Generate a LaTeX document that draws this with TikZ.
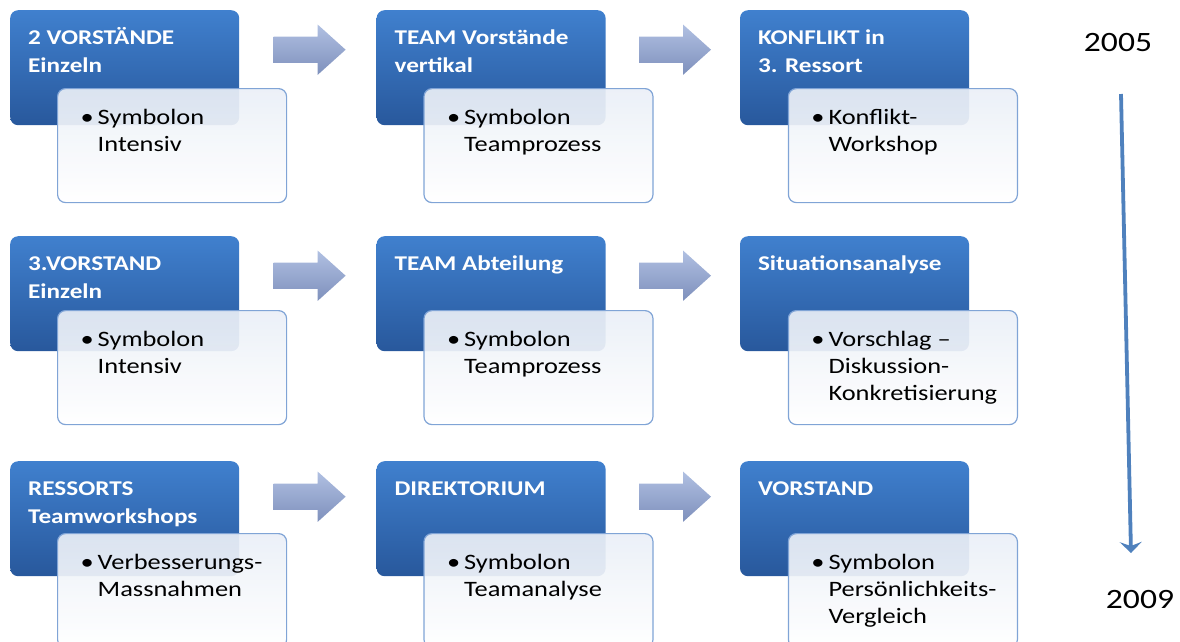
\documentclass[tikz,border=0pt]{standalone}
\usepackage{fontspec}
\setmainfont[FakeStretch=1.2]{Carlito}
\usetikzlibrary{arrows.meta, calc, positioning, shapes.arrows}

\definecolor{boxtop}{RGB}{64,128,206}
\definecolor{boxbot}{RGB}{40,88,156}
\definecolor{subline}{RGB}{128,164,214}
\definecolor{subtop}{RGB}{234,239,247}
\definecolor{arrtop}{RGB}{176,192,226}
\definecolor{arrbot}{RGB}{126,144,188}
\definecolor{timeblue}{RGB}{79,129,189}

\newcommand{\headtext}[1]{\parbox[c][85pt][t]{193pt}{\strut#1}}
\newcommand{\subtext}[1]{\parbox[c][80pt][t]{183pt}{\hbox to 183pt{\strut\textbullet\hspace{4pt}\begin{tabular}[t]{@{}l@{}}#1\end{tabular}\hss}}}

\tikzset{
  headbox/.style={rounded corners=8pt, top color=boxtop, bottom color=boxbot,
    anchor=north west, inner xsep=18pt, inner ysep=15pt, text=white,
    font=\bfseries\fontsize{21}{28}\selectfont},
  subbox/.style={rounded corners=8pt, draw=subline, line width=1.2pt,
    top color=subtop, bottom color=white, fill opacity=0.92, text opacity=1,
    inner xsep=23pt, inner ysep=17pt, font=\fontsize{22}{27}\selectfont},
  stepblock/.style={single arrow, inner xsep=0pt, inner ysep=13pt,
    minimum height=72pt, minimum width=50pt, single arrow head extend=12pt,
    single arrow tip angle=84, top color=arrtop, bottom color=arrbot},
  yeartext/.style={font=\fontsize{28}{32}\selectfont},
  timeline/.style={draw=timeblue, line width=3.8pt,
    -{Stealth[length=11pt,width=22pt,inset=4pt]}},
}

\begin{document}
\begin{tikzpicture}[x=1pt,y=-1pt]
\useasboundingbox (0,0) rectangle (1180,641);

% row 1
\node[headbox] (h11) at (10,10) {\headtext{2 VORSTÄNDE\\Einzeln}};
\node[headbox, right=137pt of h11] (h12) {\headtext{TEAM Vorstände\\vertikal}};
\node[headbox, right=134pt of h12] (h13) {\headtext{KONFLIKT in\\3. Ressort}};
\node[subbox, below right=78pt and 47pt of h11.north west] (s11) {\subtext{Symbolon\\Intensiv}};
\node[subbox, below right=78pt and 47pt of h12.north west] (s12) {\subtext{Symbolon\\Teamprozess}};
\node[subbox, below right=78pt and 48pt of h13.north west] (s13) {\subtext{Konflikt-\\Workshop}};
\node[stepblock, right=34pt of h11.east, yshift=18pt] (a11) {};
\node[stepblock, right=33pt of h12.east, yshift=18pt] (a12) {};

% row 2
\node[headbox] (h21) at (10,236) {\headtext{3.VORSTAND\\Einzeln}};
\node[headbox, right=137pt of h21] (h22) {\headtext{TEAM Abteilung}};
\node[headbox, right=134pt of h22] (h23) {\headtext{Situationsanalyse}};
\node[subbox, below right=74pt and 47pt of h21.north west] (s21) {\subtext{Symbolon\\Intensiv}};
\node[subbox, below right=74pt and 47pt of h22.north west] (s22) {\subtext{Symbolon\\Teamprozess}};
\node[subbox, below right=74pt and 48pt of h23.north west] (s23) {\subtext{Vorschlag –\\Diskussion-\\Konkretisierung}};
\node[stepblock, right=34pt of h21.east, yshift=18pt] (a21) {};
\node[stepblock, right=33pt of h22.east, yshift=18pt] (a22) {};

% row 3
\node[headbox] (h31) at (10,461) {\headtext{RESSORTS\\Teamworkshops}};
\node[headbox, right=137pt of h31] (h32) {\headtext{DIREKTORIUM}};
\node[headbox, right=134pt of h32] (h33) {\headtext{VORSTAND}};
\node[subbox, below right=72pt and 47pt of h31.north west] (s31) {\subtext{Verbesserungs-\\Massnahmen}};
\node[subbox, below right=72pt and 47pt of h32.north west] (s32) {\subtext{Symbolon\\Teamanalyse}};
\node[subbox, below right=72pt and 48pt of h33.north west] (s33) {\subtext{Symbolon\\Persönlichkeits-\\Vergleich}};
\node[stepblock, right=34pt of h31.east, yshift=22pt] (a31) {};
\node[stepblock, right=33pt of h32.east, yshift=22pt] (a32) {};

% time axis
\node[yeartext] (y05) at (1118,43) {2005};
\node[yeartext] (y09) at (1140,599) {2009};
\coordinate (t0) at (1121,94);
\coordinate (t1) at (1131,553);
\draw[timeline] (t0) -- (t1);
\end{tikzpicture}
\end{document}
